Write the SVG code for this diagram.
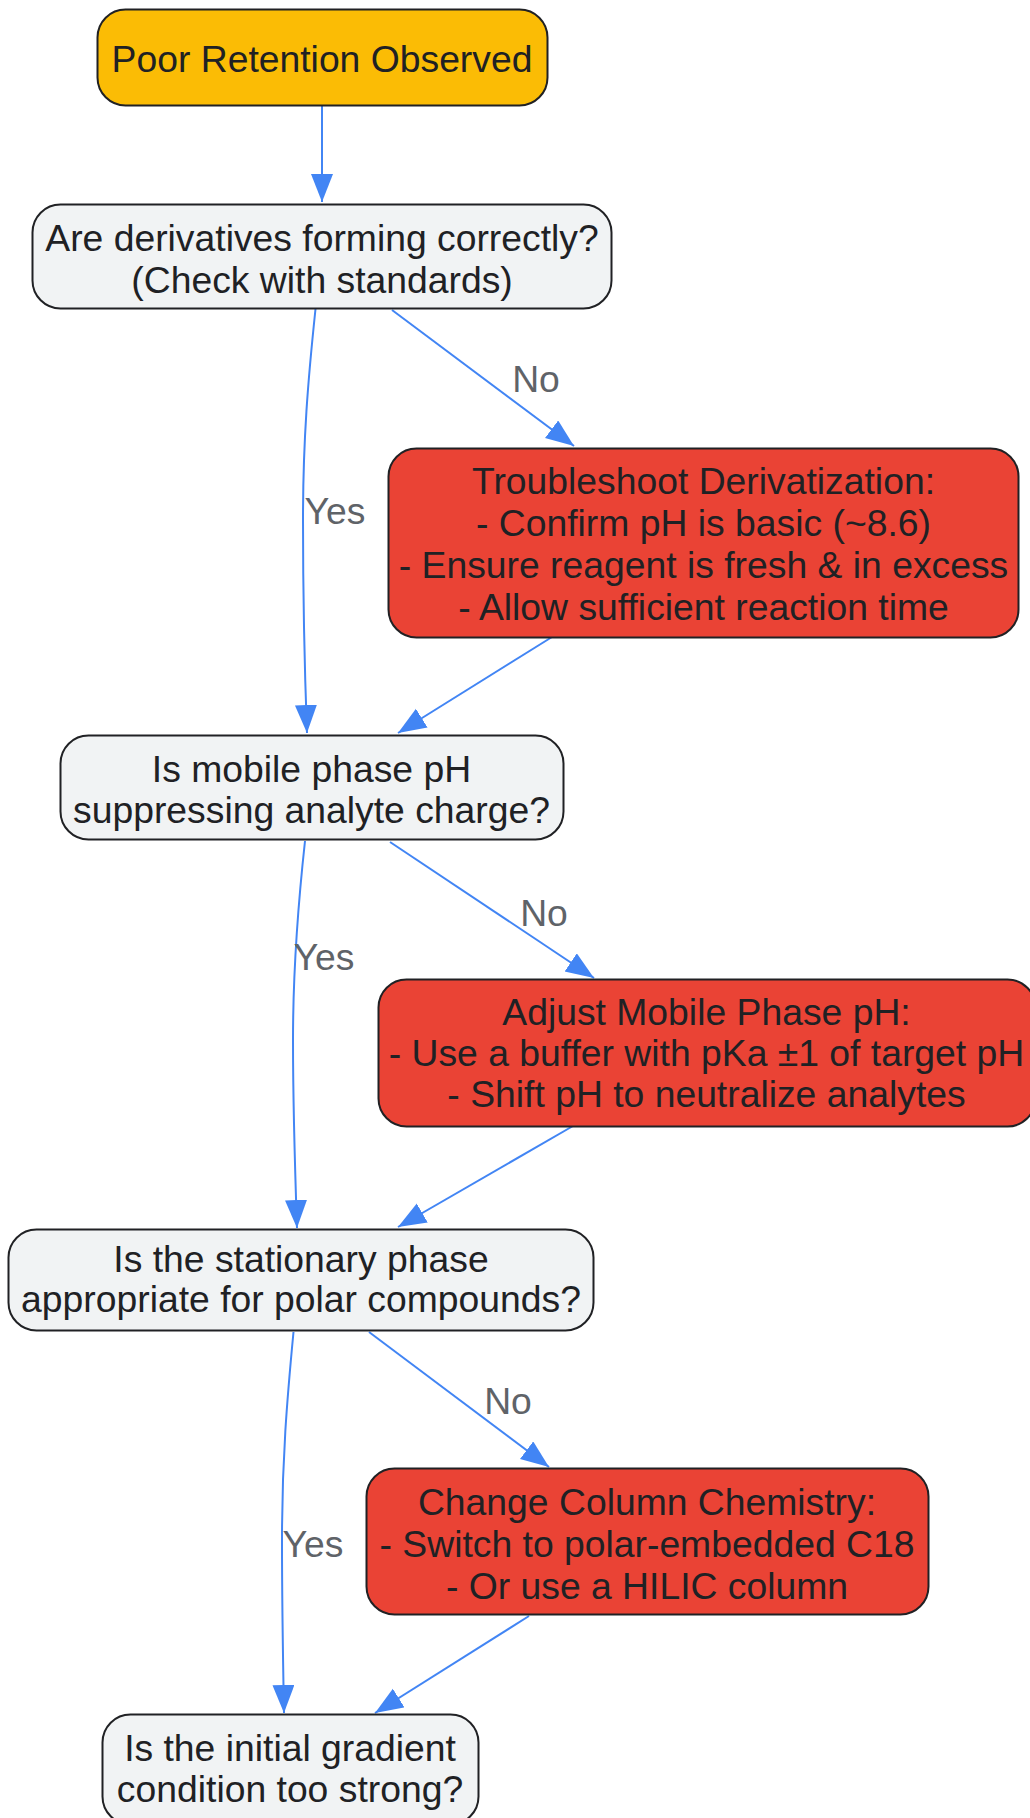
<svg xmlns="http://www.w3.org/2000/svg" width="1030" height="1818" viewBox="0 0 1030 1818">
<defs>
<style>
.n rect{stroke:#202124;stroke-width:2}
.q rect{fill:#F1F3F4}
.a rect{fill:#EA4335}
.s rect{fill:#FBBC05}
.n text{font-family:"Liberation Sans",Arial,sans-serif;font-size:37.3px;fill:#202124;text-anchor:middle}
.e path{fill:none;stroke:#4285F4;stroke-width:2}
.e text{font-family:"Liberation Sans",Arial,sans-serif;font-size:37.3px;fill:#5F6368;text-anchor:middle}
</style>
<marker id="ah" markerUnits="userSpaceOnUse" markerWidth="30" markerHeight="24" refX="28" refY="11" orient="auto">
<path d="M0,0 L28,11 L0,22 Z" fill="#4285F4"/>
</marker>
</defs>
<rect width="1030" height="1818" fill="#FFFFFF"/>
<g class="e" id="edges">
<path d="M322,106 L322,202" marker-end="url(#ah)"/>
<path d="M315.5,309 C308,380 303,440 303,520 C303,600 305,680 307,733" marker-end="url(#ah)"/>
<text x="335" y="524">Yes</text>
<path d="M392,310 L574,446" marker-end="url(#ah)"/>
<text x="536" y="392">No</text>
<path d="M552,637 L398,733" marker-end="url(#ah)"/>
<path d="M305,841 C298,905 293,970 293,1040 C293,1110 295,1170 297,1228" marker-end="url(#ah)"/>
<text x="324" y="970">Yes</text>
<path d="M390,842 L594,978" marker-end="url(#ah)"/>
<text x="544" y="926">No</text>
<path d="M573,1126 L398,1227" marker-end="url(#ah)"/>
<path d="M293.5,1332 C287,1400 282,1460 282,1540 C282,1610 283,1660 284,1713" marker-end="url(#ah)"/>
<text x="313" y="1557">Yes</text>
<path d="M369,1332 L549,1467" marker-end="url(#ah)"/>
<text x="508" y="1414">No</text>
<path d="M529,1616 L375,1713" marker-end="url(#ah)"/>
</g>
<g class="n s" id="poor_retention">
<rect x="97.5" y="9.5" width="450" height="96" rx="28"/>
<text x="322" y="72">Poor Retention Observed</text>
</g>
<g class="n q" id="q_derivatives">
<rect x="32.5" y="204.5" width="579" height="104" rx="28"/>
<text x="322" y="251">Are derivatives forming correctly?</text>
<text x="322" y="293">(Check with standards)</text>
</g>
<g class="n a" id="fix_derivatization">
<rect x="388.5" y="448.5" width="630" height="189" rx="28"/>
<text x="703.5" y="494">Troubleshoot Derivatization:</text>
<text x="703.5" y="536">- Confirm pH is basic (~8.6)</text>
<text x="703.5" y="578">- Ensure reagent is fresh &amp; in excess</text>
<text x="703.5" y="620">- Allow sufficient reaction time</text>
</g>
<g class="n q" id="q_mobile_ph">
<rect x="60.5" y="735.5" width="503" height="104" rx="28"/>
<text x="311.5" y="782">Is mobile phase pH</text>
<text x="311.5" y="823">suppressing analyte charge?</text>
</g>
<g class="n a" id="fix_mobile_ph">
<rect x="378.5" y="979.5" width="657" height="147" rx="28"/>
<text x="706.5" y="1025">Adjust Mobile Phase pH:</text>
<text x="706.5" y="1066">- Use a buffer with pKa ±1 of target pH</text>
<text x="706.5" y="1107">- Shift pH to neutralize analytes</text>
</g>
<g class="n q" id="q_stationary">
<rect x="8.5" y="1229.5" width="585" height="101" rx="28"/>
<text x="301" y="1272">Is the stationary phase</text>
<text x="301" y="1312">appropriate for polar compounds?</text>
</g>
<g class="n a" id="fix_column">
<rect x="366.5" y="1468.5" width="562" height="146" rx="28"/>
<text x="647" y="1515">Change Column Chemistry:</text>
<text x="647" y="1557">- Switch to polar-embedded C18</text>
<text x="647" y="1599">- Or use a HILIC column</text>
</g>
<g class="n q" id="q_gradient">
<rect x="102.5" y="1714.5" width="376" height="110" rx="28"/>
<text x="290" y="1761">Is the initial gradient</text>
<text x="290" y="1802">condition too strong?</text>
</g>
</svg>
